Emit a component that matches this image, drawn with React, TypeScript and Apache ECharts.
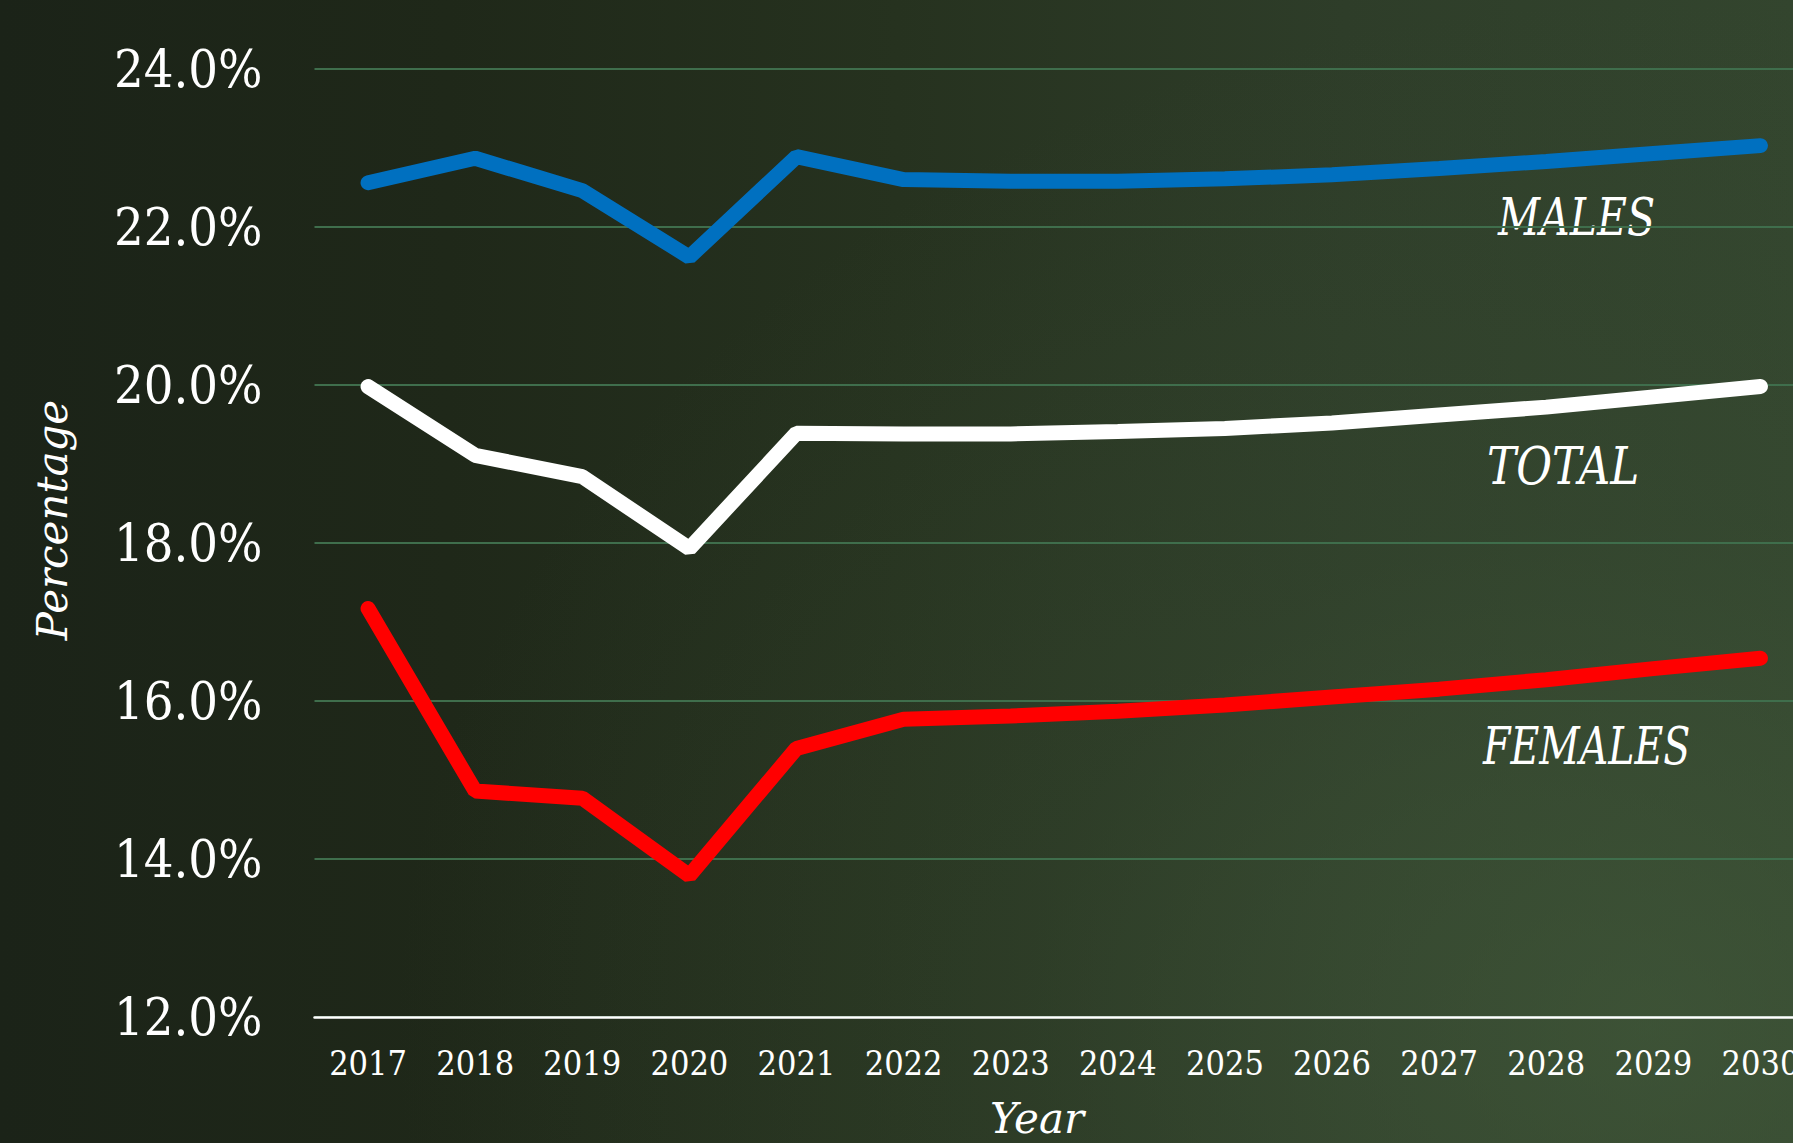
import React, { useEffect, useRef } from "react";
import * as echarts from "echarts";

const years = ["2017", "2018", "2019", "2020", "2021", "2022", "2023", "2024", "2025", "2026", "2027", "2028", "2029", "2030"];
const males = [22.56, 22.87, 22.46, 21.62, 22.89, 22.6, 22.58, 22.58, 22.61, 22.66, 22.74, 22.83, 22.93, 23.03];
const total = [19.98, 19.11, 18.84, 17.93, 19.39, 19.38, 19.38, 19.41, 19.45, 19.52, 19.62, 19.72, 19.85, 19.98];
const females = [17.17, 14.86, 14.77, 13.79, 15.4, 15.77, 15.81, 15.87, 15.95, 16.05, 16.15, 16.27, 16.41, 16.54];
const yTicks = { min: 12, max: 24, interval: 2 };

const SERIF = "'DejaVu Serif Condensed', 'DejaVu Serif', serif";

export default function App() {
  const ref = useRef<HTMLDivElement>(null);
  useEffect(() => {
    document.body.style.margin = "0";
    document.body.style.overflow = "hidden";
    const chart = echarts.init(ref.current!, null, { renderer: "svg" });
    const labelText = (text: string, x: number, y: number, sx: number) => ({
      type: "text",
      x,
      y,
      scaleX: sx,
      style: {
        text,
        fill: "#ffffff",
        font: "italic 52px 'DejaVu Serif'",
        verticalAlign: "middle",
        align: "left",
      },
    });
    chart.setOption({
      animation: false,
      backgroundColor: "transparent",
      grid: { left: 314.5, top: 69, width: 1499.5, height: 948, containLabel: false },
      xAxis: {
        type: "category",
        data: years,
        boundaryGap: true,
        axisTick: { show: false },
        axisLine: { show: true, lineStyle: { color: "#ffffff", width: 2.5 } },
        axisLabel: { color: "#ffffff", fontSize: 34, fontFamily: SERIF, margin: 29, interval: 0 },
        splitLine: { show: false },
      },
      yAxis: {
        type: "value",
        min: yTicks.min,
        max: yTicks.max,
        interval: yTicks.interval,
        axisLine: { show: false },
        axisTick: { show: false },
        axisLabel: {
          color: "#ffffff",
          fontSize: 52,
          fontFamily: SERIF,
          margin: 52,
          formatter: (v: number) => v.toFixed(1) + "%",
        },
        splitLine: { show: true, lineStyle: { color: "#3f6e4c", width: 2 } },
      },
      graphic: [
        {
          type: "text",
          x: 52,
          y: 520,
          rotation: Math.PI / 2,
          style: {
            text: "Percentage",
            fill: "#ffffff",
            font: "italic 42px 'DejaVu Serif'",
            align: "center",
            verticalAlign: "middle",
          },
        },
        {
          type: "text",
          x: 1037,
          y: 1118,
          style: {
            text: "Year",
            fill: "#ffffff",
            font: "italic 42px 'DejaVu Serif'",
            align: "center",
            verticalAlign: "middle",
          },
        },
        labelText("MALES", 1498, 217, 0.79),
        labelText("TOTAL", 1487, 466, 0.84),
        labelText("FEMALES", 1483, 746, 0.76),
      ],
      series: [
        {
          name: "Females",
          type: "line",
          data: females,
          symbol: "none",
          lineStyle: { color: "#ff0000", width: 15, cap: "round" },
        },
        {
          name: "Total",
          type: "line",
          data: total,
          symbol: "none",
          lineStyle: { color: "#ffffff", width: 15, cap: "round" },
        },
        {
          name: "Males",
          type: "line",
          data: males,
          symbol: "none",
          lineStyle: { color: "#0070c0", width: 15, cap: "round" },
        },
      ],
    });
    return () => chart.dispose();
  }, []);
  return (
    <div
      style={{
        position: "absolute",
        left: 0,
        top: 0,
        width: 1793,
        height: 1143,
        overflow: "hidden",
        background:
          "radial-gradient(ellipse 70% 90% at 92% 90%, rgba(70,95,62,0.55) 0%, rgba(60,82,54,0.25) 50%, rgba(0,0,0,0) 100%), linear-gradient(90deg, #1b2318 0%, #1f2819 25%, #26321f 50%, #2e3d29 75%, #33452e 100%)",
      }}
    >
      <div ref={ref} style={{ position: "absolute", left: 0, top: 0, width: 1830, height: 1143 }} />
    </div>
  );
}
